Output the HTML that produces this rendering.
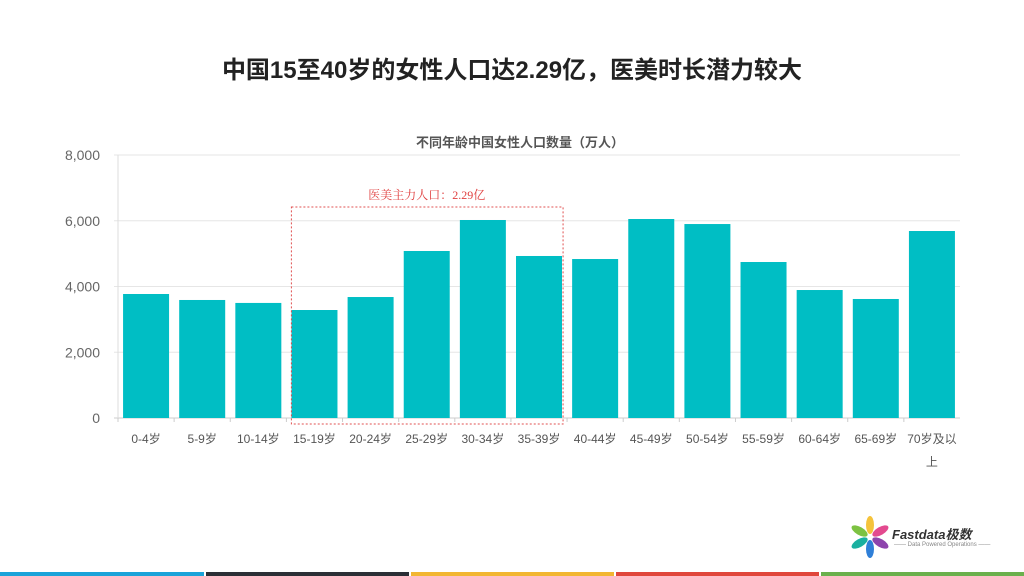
<!DOCTYPE html>
<html><head><meta charset="utf-8"><style>
body{margin:0;width:1024px;height:576px;background:#fff;overflow:hidden;position:relative;font-family:"Liberation Sans","Noto Sans CJK SC",sans-serif}
#title{position:absolute;top:50px;left:0;width:1024px;text-align:center;font-size:24px;font-weight:bold;color:#222}
.strip{position:absolute;top:572px;height:4px}
</style></head><body>
<div id="title">中国15至40岁的女性人口达2.29亿，医美时长潜力较大</div>
<svg id="chart" width="1024" height="576" style="position:absolute;left:0;top:0"></svg>
<div class="strip" style="left:0;width:204px;background:#1aa3d9"></div>
<div class="strip" style="left:206px;width:203px;background:#2b2f36"></div>
<div class="strip" style="left:411px;width:203px;background:#f2b632"></div>
<div class="strip" style="left:616px;width:203px;background:#e0473c"></div>
<div class="strip" style="left:821px;width:203px;background:#6ab04c"></div>
<div style="position:absolute;left:850px;top:514px;width:150px;height:46px">
<svg width="40" height="46" style="position:absolute;left:0;top:0">
<g transform="translate(20,23)">
<ellipse cx="0" cy="-12" rx="4" ry="9" fill="#f5c33b"/>
<ellipse cx="0" cy="-12" rx="4" ry="9" fill="#e34a8f" transform="rotate(60)"/>
<ellipse cx="0" cy="-12" rx="4" ry="9" fill="#8e44ad" transform="rotate(120)"/>
<ellipse cx="0" cy="-12" rx="4" ry="9" fill="#2f7fd8" transform="rotate(180)"/>
<ellipse cx="0" cy="-12" rx="4" ry="9" fill="#1ab0a0" transform="rotate(240)"/>
<ellipse cx="0" cy="-12" rx="4" ry="9" fill="#7dc242" transform="rotate(300)"/>
</g></svg>
<div style="position:absolute;left:42px;top:10px;font-size:13px;font-weight:bold;font-style:italic;color:#333">Fastdata极数</div>
<div style="position:absolute;left:44px;top:28px;font-size:6px;color:#888;white-space:nowrap">—— Data Powered Operations ——</div>
</div>
<script>
const categories=["0-4岁","5-9岁","10-14岁","15-19岁","20-24岁","25-29岁","30-34岁","35-39岁","40-44岁","45-49岁","50-54岁","55-59岁","60-64岁","65-69岁","70岁及以上"];
const values=[3772,3590,3500,3285,3680,5080,6023,4928,4836,6053,5900,4745,3893,3620,5688];
const yTicks=[0,2000,4000,6000,8000];
const yTickLabels=["0","2,000","4,000","6,000","8,000"];
const NS="http://www.w3.org/2000/svg";
const svg=document.getElementById('chart');
const x0=118,x1=960,y0=418,y1=155,yMax=8000;
const step=(x1-x0)/categories.length,bw=46;
const ys=v=>y0-(v/yMax)*(y0-y1);
const xs=i=>x0+step*i;
function mk(t,a){const e=document.createElementNS(NS,t);for(const k in a)e.setAttribute(k,a[k]);svg.appendChild(e);return e;}
let t=mk('text',{x:520,y:147,'text-anchor':'middle','font-size':13,'font-weight':'bold',fill:'#555'});t.textContent='不同年龄中国女性人口数量（万人）';


yTicks.forEach((v,i)=>{
 const l=mk('line',{x1:x0-4,x2:x1,y1:ys(v),y2:ys(v),stroke:i==0?'#ccc':'#e6e6e6'});
 
 
 const tx=mk('text',{x:x0-18,y:ys(v)+5,'text-anchor':'end','font-size':14,fill:'#666'});tx.textContent=yTickLabels[i];
 
 
});
const ax=mk('line',{x1:x0,x2:x0,y1:y1,y2:y0,stroke:'#ddd'});


categories.forEach((c,i)=>{
 const cx=xs(i)+step/2;
 const r=mk('rect',{x:cx-bw/2,y:ys(values[i]),width:bw,height:y0-ys(values[i]),fill:'#00bec4'});
 
 
 const tk=mk('line',{x1:xs(i),x2:xs(i),y1:y0,y2:y0+4,stroke:'#ccc'});
 
 
 if(c.length>5 && c.indexOf('-')<0){
  const a=mk('text',{x:cx,y:443,'text-anchor':'middle','font-size':12,fill:'#555'});a.textContent=c.slice(0,c.length-1);
  
  
  const b=mk('text',{x:cx,y:466,'text-anchor':'middle','font-size':12,fill:'#555'});b.textContent=c.slice(c.length-1);
  
  
 } else {
  const a=mk('text',{x:cx,y:443,'text-anchor':'middle','font-size':12,fill:'#555'});a.textContent=c;
  
  
 }
});
const bx=mk('rect',{x:xs(3)+5,y:207,width:step*5-9,height:217,fill:'none',stroke:'#e05050','stroke-dasharray':'2,2','stroke-width':1});


const lb=mk('text',{x:xs(3)+step*2.5,y:199,'text-anchor':'middle','font-size':12,fill:'#e04040','font-family':'Liberation Serif, Noto Serif CJK SC, serif'});lb.textContent='医美主力人口：2.29亿';


</script>
</body></html>
